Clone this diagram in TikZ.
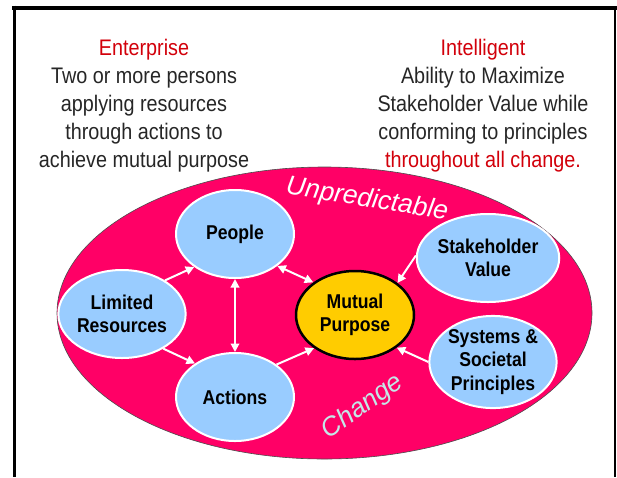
\documentclass[tikz,border=0pt]{standalone}
\usepackage{fontspec}
\setmainfont{Liberation Sans}[FakeStretch=0.88]
\newfontfamily\slantfont{Liberation Sans}
\usetikzlibrary{shapes.geometric,arrows.meta}

\definecolor{fieldred}{RGB}{255,0,102}
\definecolor{skyfill}{RGB}{153,204,255}
\definecolor{goalfill}{RGB}{255,204,0}
\definecolor{headred}{RGB}{210,0,10}
\definecolor{mist}{RGB}{196,232,232}

\begin{document}
\begin{tikzpicture}[
  x=1pt, y=-1pt,
  topic/.style={ellipse, draw=white, fill=skyfill, line width=2pt, inner sep=0pt,
    minimum width=118pt, minimum height=88pt, align=center,
    font=\fontsize{20}{23.5}\selectfont\bfseries},
  goal/.style={topic, draw=black, fill=goalfill, line width=2.5pt},
  link/.style={draw=white, line width=2pt, -{Triangle[length=8.5pt,width=8.5pt]}},
  both/.style={link, {Triangle[length=8.5pt,width=8.5pt]}-{Triangle[length=8.5pt,width=8.5pt]}},
  head/.style={anchor=north, inner sep=0pt, align=center,
    font=\fontsize{22.5}{28}\selectfont, text=black!85},
  mood/.style={font=\fontsize{26.5}{26.5}\slantfont\itshape}
]
  \useasboundingbox (0,0) rectangle (617,477);

  % Rahmen
  \draw[line width=4pt] (12,7.5) -- (617,7.5);
  \draw[line width=3.5pt] (14.5,5.5) -- (14.5,477);
  \draw[line width=2pt] (615,7) -- (615,477);

  % Texte oben
  \node[head] (ent) at (144,39) {{\color{headred}Enterprise}\\Two or more persons\\
    applying resources\\through actions to\\achieve mutual purpose};
  \node[head] (int) at (483,39) {{\color{headred}Intelligent}\\Ability to Maximize\\
    Stakeholder Value while\\conforming to principles\\{\color{headred}throughout all change.}};

  % Umfeld
  \node[ellipse, fill=fieldred, draw=black!70, line width=0.6pt, inner sep=0pt,
    minimum width=535pt, minimum height=292pt] (field) at (324.5,313) {};
  \node[mood, text=white, rotate=-9] (unpred) at (367,200) {Unpredictable};
  \node[mood, text=mist, rotate=35] (chg) at (363,407) {Change};

  % Knoten
  \node[topic] (peo) at (235,234) {People};
  \node[topic] (lim) at (122,314) {Limited\\Resources};
  \node[topic] (act) at (235,397) {Actions};
  \node[goal]  (mut) at (355,315) {Mutual\\Purpose};
  \node[topic] (stk) at (488,258) {Stakeholder\\Value};
  \node[topic] (sys) at (493,362) {Systems \&\\Societal\\Principles};

  % Pfeile
  \draw[link] (lim.38) -- (peo.219);
  \draw[link] (lim.-40) -- (act.140);
  \draw[both] (peo.south) -- (act.north);
  \draw[both] (peo.-37) -- (mut.142);
  \draw[link] (act.38) -- (mut.219);
  \draw[link] (stk.178) -- (mut.37);
  \draw[link] (sys.180) -- (mut.-38);
\end{tikzpicture}
\end{document}
